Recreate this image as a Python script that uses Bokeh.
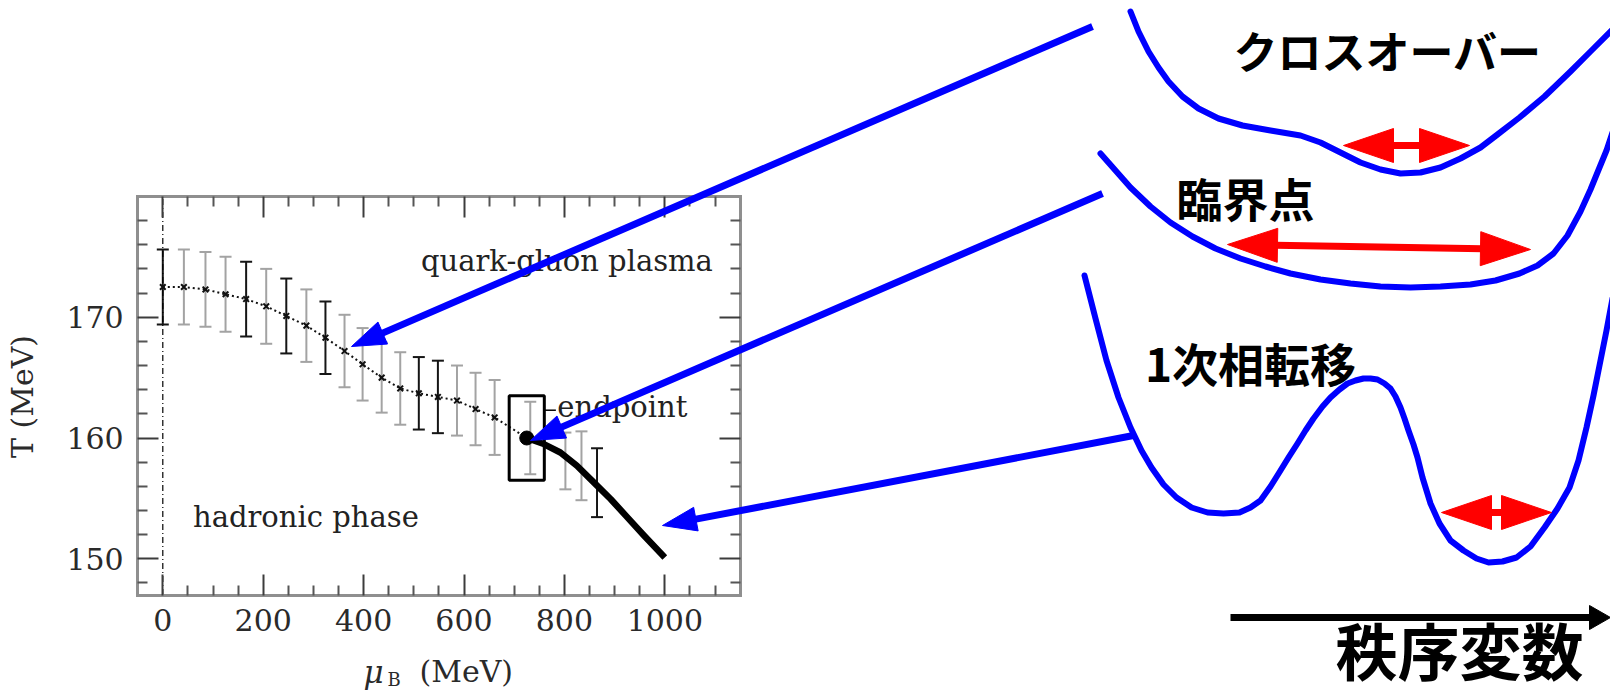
import math
import numpy as np
from bokeh.plotting import figure
from bokeh.models import (Range1d, LinearAxis, FixedTicker, ColumnDataSource,
                          Whisker, TeeHead, CustomJSTickFormatter)
from bokeh.core.properties import value
from bokeh.embed import file_html
from bokeh.resources import INLINE

W, H = 1610, 692

# ---------------- QCD phase diagram (mu_B, T in MeV) ----------------
# crossover line with lattice error bars
CROSS_MU = [0, 42, 85, 125, 166, 206, 246, 286, 324, 362, 398, 436, 473, 510, 548, 586, 623, 661]
CROSS_T = [172.5, 172.5, 172.3, 171.9, 171.5, 170.9, 170.1, 169.3, 168.3,
           167.2, 166.1, 165.0, 164.1, 163.7, 163.4, 163.1, 162.4, 161.7]
CROSS_ERR = [3.1, 3.1, 3.1, 3.1, 3.1, 3.1, 3.1, 3.0, 3.0,
             3.0, 3.0, 2.9, 3.0, 3.0, 3.0, 2.9, 3.0, 3.1]
CROSS_SHADE = ["dark", "light", "light", "light", "dark", "light", "dark", "light", "dark",
               "light", "light", "light", "light", "dark", "dark", "light", "light", "light"]

# error bars beyond the critical point
TAIL_MU = [732, 802, 834, 865]
TAIL_T = [160.0, 158.1, 157.7, 156.3]
TAIL_ERR = [3.0, 2.35, 2.85, 2.85]
TAIL_SHADE = ["light", "light", "light", "dark"]

# critical endpoint and its uncertainty box
END_MU, END_T = 725, 160
END_MU_ERR, END_T_ERR = 35, 3.5

# first-order transition line
FIRST_MU = [725, 759, 792, 825, 858, 892, 925, 958, 1000]
FIRST_T = [160.0, 159.5, 158.8, 157.7, 156.35, 154.95, 153.45, 151.95, 150.1]

ZERO_MU = 0
X_TICKS = [0, 200, 400, 600, 800, 1000]
X_MINOR = [50, 100, 150, 250, 300, 350, 450, 500, 550, 650, 700, 750, 850, 900, 950, 1050, 1100]
Y_TICKS = [150, 160, 170]
Y_MINOR = [148, 152, 154, 156, 158, 162, 164, 166, 168, 172, 174, 176, 178]
MU_LIMITS = (-50, 1150)
T_LIMITS = (147, 180)

# ---------------- effective potentials vs. order parameter ----------------
CROSSOVER_X = [1130, 1138, 1148, 1158, 1168, 1182, 1198, 1218, 1242, 1270, 1300, 1320, 1340, 1360,
               1380, 1400, 1420, 1440, 1460, 1480, 1497, 1519, 1544, 1570, 1590, 1612]
CROSSOVER_Y = [11, 31, 51, 67, 81, 96, 108, 118, 125, 130, 135, 142, 152, 162,
               169, 173, 172, 167, 158, 147, 134, 117, 96, 71, 51, 29]

CRITICAL_X = [1100, 1115, 1130, 1150, 1170, 1192, 1215, 1240, 1265, 1290, 1320, 1350, 1380,
              1410, 1440, 1470, 1495, 1519, 1537, 1553, 1567, 1580, 1590, 1599, 1606, 1612]
CRITICAL_Y = [153, 170, 187, 206, 222, 236, 248, 258, 266, 273, 279, 283, 286,
              287, 286, 284, 280, 273, 265, 253, 235, 211, 189, 167, 150, 132]

FIRSTORDER_X = [1084, 1095, 1106, 1118, 1130, 1141, 1151, 1163, 1176, 1191, 1207, 1223, 1239,
                1250, 1260, 1270, 1280, 1288, 1297, 1305, 1313, 1322, 1330, 1339, 1347, 1355,
                1363, 1370, 1377, 1384, 1390, 1395, 1400, 1404, 1408, 1413, 1417, 1422, 1430,
                1439, 1450, 1463, 1476, 1488, 1502, 1516, 1530, 1544, 1557, 1569, 1578, 1586,
                1593, 1600, 1606, 1612]
FIRSTORDER_Y = [275, 318, 360, 397, 427, 450, 467, 484, 497, 507, 512, 513, 512,
                507, 500, 486, 470, 457, 443, 430, 418, 406, 397, 389, 383, 380,
                378, 378, 379, 383, 388, 396, 407, 418, 430, 444, 457, 477, 503,
                523, 540, 550, 558, 562, 561, 557, 546, 527, 508, 487, 460, 427,
                395, 360, 330, 298]

# fluctuation widths (double arrows): left tip, right tip
RED_LEFT = [(1343, 145), (1227, 244), (1441, 512)]
RED_RIGHT = [(1469, 145), (1530, 249), (1551, 512)]

# pointers from each potential to the matching region of the phase diagram
BLUE_START = [(1092, 26), (1102, 193), (1133, 435)]
BLUE_TIP = [(351, 346), (530, 440), (662, 525)]

ORDER_ARROW = [(1230, 617), (1610, 617)]

LABELS_JP = ["クロスオーバー", "臨界点", "1次相転移", "秩序変数"]
LABELS_JP_POS = [(1387, 49), (1245, 196), (1250, 361), (1459, 648)]
LABELS_JP_SIZE = ["44px", "46px", "46px", "62px"]

# ---------------- canvas calibration ----------------
MU0_PX, PX_PER_MU = 162.3, 0.502
T0, T0_PY, PX_PER_T = 160.0, 437.5, 12.08
mu_lo = -MU0_PX / PX_PER_MU
mu_hi = (W - MU0_PX) / PX_PER_MU
t_hi = T0 + T0_PY / PX_PER_T
t_lo = T0 - (H - T0_PY) / PX_PER_T

p = figure(width=W, height=H, x_range=Range1d(mu_lo, mu_hi), y_range=Range1d(t_lo, t_hi),
           x_axis_type=None, y_axis_type=None, title=None,
           output_backend="svg", toolbar_location=None, min_border=0)
p.outline_line_color = None
p.background_fill_color = "white"
p.border_fill_color = "white"
p.extra_x_ranges = {"cx": Range1d(0, W)}
p.extra_y_ranges = {"cy": Range1d(H, 0)}

SERIF = "DejaVu Serif"
FRAME = "#8f8f8f"


def frame_axis(ticks, minor, loc, bounds, labelled):
    ax = LinearAxis(ticker=FixedTicker(ticks=ticks, minor_ticks=minor),
                    fixed_location=loc, bounds=bounds)
    ax.axis_line_color = FRAME
    ax.axis_line_width = 3
    ax.axis_line_cap = "square"
    ax.major_tick_in = 21
    ax.major_tick_out = 0
    ax.minor_tick_in = 10
    ax.minor_tick_out = 0
    ax.major_tick_line_color = "#3c3c3c"
    ax.major_tick_line_width = 2
    ax.minor_tick_line_color = "#555555"
    ax.minor_tick_line_width = 2
    ax.major_label_text_font = SERIF
    ax.major_label_text_font_size = "30px"
    ax.major_label_text_color = "#2a2a2a"
    ax.major_label_standoff = 14
    if not labelled:
        ax.formatter = CustomJSTickFormatter(code="return ''")
        ax.major_label_text_font_size = "0px"
    return ax


p.add_layout(frame_axis(X_TICKS, X_MINOR, T_LIMITS[0], MU_LIMITS, True), "below")
p.add_layout(frame_axis(X_TICKS, X_MINOR, T_LIMITS[1], MU_LIMITS, False), "above")
p.add_layout(frame_axis(Y_TICKS, Y_MINOR, MU_LIMITS[0], T_LIMITS, True), "left")
p.add_layout(frame_axis(Y_TICKS, Y_MINOR, MU_LIMITS[1], T_LIMITS, False), "right")

# mu_B = 0 reference line
p.segment(x0=[ZERO_MU], y0=[T_LIMITS[0]], x1=[ZERO_MU], y1=[T_LIMITS[1]],
          line_color="black", line_width=1.2, line_dash="6 3 1 3")

# error bars
all_mu = CROSS_MU + TAIL_MU
all_t = CROSS_T + TAIL_T
all_err = CROSS_ERR + TAIL_ERR
all_shade = CROSS_SHADE + TAIL_SHADE
for shade, color in (("light", "#a3a3a3"), ("dark", "#151515")):
    idx = [i for i, s in enumerate(all_shade) if s == shade]
    src = ColumnDataSource(dict(base=[all_mu[i] for i in idx],
                                lower=[all_t[i] - all_err[i] for i in idx],
                                upper=[all_t[i] + all_err[i] for i in idx]))
    p.add_layout(Whisker(source=src, base="base", lower="lower", upper="upper",
                         dimension="height", line_color=color, line_width=2,
                         upper_head=TeeHead(size=12, line_color=color, line_width=2),
                         lower_head=TeeHead(size=12, line_color=color, line_width=2)))

# crossover line
p.line(CROSS_MU + [END_MU], CROSS_T + [END_T], line_color="#111111", line_width=2, line_dash="2 3")
p.scatter(CROSS_MU, CROSS_T, marker="x", size=8, line_color="#111111", line_width=2)

# endpoint box, first-order line and critical point
p.quad(left=[END_MU - END_MU_ERR], right=[END_MU + END_MU_ERR],
       bottom=[END_T - END_T_ERR], top=[END_T + END_T_ERR],
       fill_color=None, line_color="black", line_width=3)
p.line(FIRST_MU, FIRST_T, line_color="black", line_width=6.5, line_cap="butt", line_join="round")
p.scatter([END_MU], [END_T], size=14, color="black")

# region labels
TXT = dict(text_font=value(SERIF), text_font_size="29px", text_color="#222222",
           text_baseline="alphabetic")
p.text(x=[805], y=[174.65], text=["quark-gluon plasma"], text_align="center", **TXT)
p.text(x=[285], y=[153.5], text=["hadronic phase"], text_align="center", **TXT)
p.text(x=[786], y=[162.6], text=["endpoint"], text_align="left", **TXT)
p.segment(x0=[END_MU + END_MU_ERR], y0=[162.3], x1=[783], y1=[162.3], line_color="black", line_width=1.5)

# axis titles
p.text(x=[22], y=[396], text=["T (MeV)"], angle=math.pi / 2, x_range_name="cx", y_range_name="cy",
       text_font=value(SERIF), text_font_size="30px", text_color="#2a2a2a",
       text_align="center", text_baseline="middle")
p.text(x=[363], y=[671], text=["μ"], x_range_name="cx", y_range_name="cy",
       text_font=value(SERIF), text_font_size="31px", text_font_style="italic",
       text_color="#2a2a2a", text_align="left", text_baseline="alphabetic")
p.text(x=[387], y=[679], text=["B"], x_range_name="cx", y_range_name="cy",
       text_font=value(SERIF), text_font_size="18px", text_color="#2a2a2a",
       text_align="left", text_baseline="alphabetic")
p.text(x=[419], y=[671], text=["(MeV)"], x_range_name="cx", y_range_name="cy",
       text_font=value(SERIF), text_font_size="30px", text_color="#2a2a2a",
       text_align="left", text_baseline="alphabetic")

# ---------------- potentials ----------------
CANVAS = dict(x_range_name="cx", y_range_name="cy")
for xs, ys in ((CROSSOVER_X, CROSSOVER_Y), (CRITICAL_X, CRITICAL_Y), (FIRSTORDER_X, FIRSTORDER_Y)):
    p.line(xs, ys, line_color="#0000ff", line_width=6, line_join="round", line_cap="round", **CANVAS)


def head(tip, tail, length, half):
    tip = np.asarray(tip, float)
    tail = np.asarray(tail, float)
    d = (tip - tail) / np.hypot(*(tip - tail))
    n = np.array([-d[1], d[0]])
    base = tip - d * length
    pts = [tip, base + n * half, base - n * half]
    return [float(q[0]) for q in pts], [float(q[1]) for q in pts], base, d


# red double arrows
hx, hy, sx, sy = [], [], [], []
for L, R in zip(RED_LEFT, RED_RIGHT):
    x1, y1, bL, dL = head(L, R, 50, 17)
    x2, y2, bR, dR = head(R, L, 50, 17)
    hx += [x1, x2]
    hy += [y1, y2]
    sx.append([float(bL[0] + dL[0] * 2), float(bR[0] + dR[0] * 2)])
    sy.append([float(bL[1] + dL[1] * 2), float(bR[1] + dR[1] * 2)])
p.multi_line(sx, sy, line_color="#ff0000", line_width=7, **CANVAS)
p.patches(hx, hy, fill_color="#ff0000", line_color="#ff0000", line_width=1, **CANVAS)

# order-parameter axis arrow
ax_x, ax_y, ab, ad = head(ORDER_ARROW[1], ORDER_ARROW[0], 21, 12)
p.line([ORDER_ARROW[0][0], float(ab[0]) + 2], [ORDER_ARROW[0][1], float(ab[1])],
       line_color="black", line_width=7, **CANVAS)
p.patch(ax_x, ax_y, fill_color="black", line_color="black", **CANVAS)

LABEL_FONT = value("Noto Sans CJK JP")
for txt, (tx, ty), fs in zip(LABELS_JP, LABELS_JP_POS, LABELS_JP_SIZE):
    p.text(x=[tx], y=[ty], text=[txt], text_font=LABEL_FONT, text_font_size=fs,
           text_font_style="bold", text_color="black", text_align="center",
           text_baseline="middle", **CANVAS)

# blue pointers
bx, by, lx, ly = [], [], [], []
for s, t in zip(BLUE_START, BLUE_TIP):
    xs, ys, b, d = head(t, s, 34, 12)
    bx.append(xs)
    by.append(ys)
    lx.append([s[0], float(b[0] + d[0] * 4)])
    ly.append([s[1], float(b[1] + d[1] * 4)])
p.multi_line(lx, ly, line_color="#0000ff", line_width=7, level="overlay", **CANVAS)
p.patches(bx, by, fill_color="#0000ff", line_color="#0000ff", line_width=1, level="overlay", **CANVAS)

open("out.html", "w").write(file_html(p, INLINE))
